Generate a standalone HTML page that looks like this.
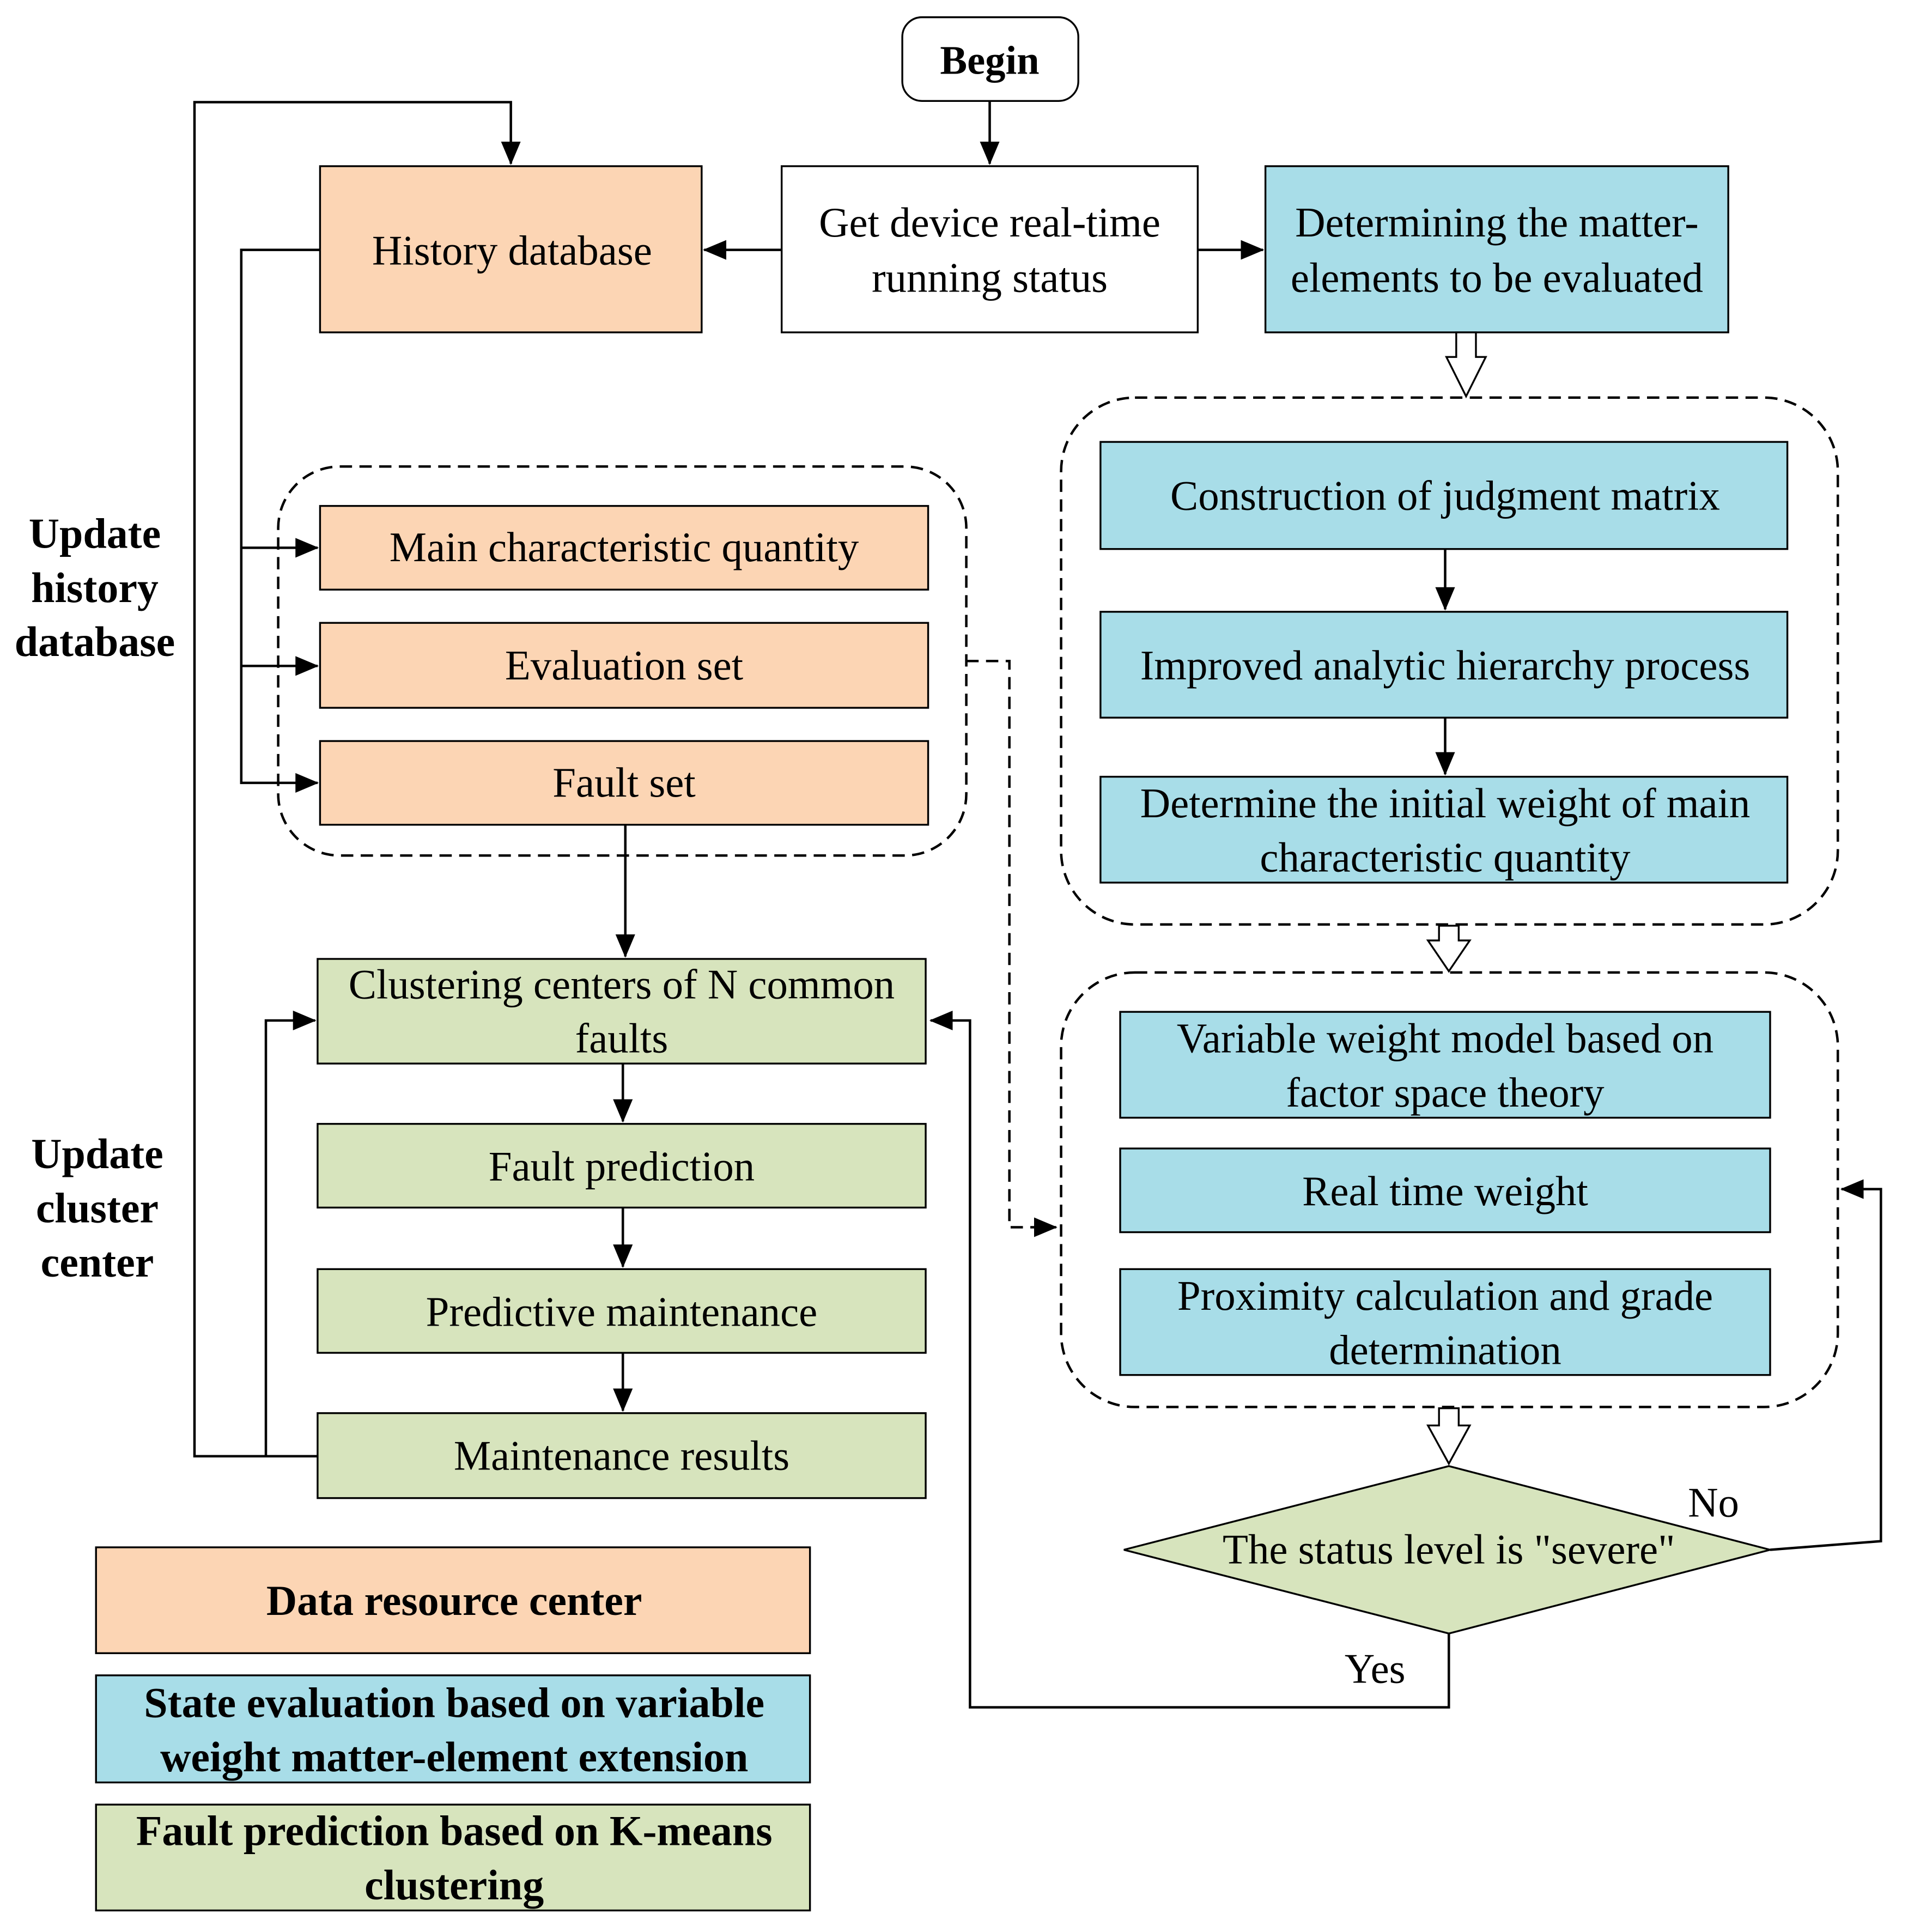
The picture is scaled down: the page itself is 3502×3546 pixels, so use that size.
<!DOCTYPE html>
<html><head><meta charset="utf-8"><style>html,body{margin:0;padding:0;background:#fff}svg{display:block}</style></head><body>
<svg width="3502" height="3546" viewBox="0 0 1550 1569.5" preserveAspectRatio="none" xmlns="http://www.w3.org/2000/svg" font-family="'Liberation Serif', serif">
<defs>
<marker id="b" markerWidth="20" markerHeight="20" refX="18" refY="10" orient="auto" markerUnits="userSpaceOnUse" viewBox="0 0 20 20"><path d="M0,2 L19,10 L0,18 z" fill="#000"/></marker>
</defs>
<g stroke="#000" stroke-width="1.5">
<rect x="733" y="14" width="143" height="68" rx="16" fill="#fff"/>
<rect x="635" y="135" width="338" height="135" fill="#fff"/>
<rect x="260" y="135" width="310" height="135" fill="#FCD5B4"/>
<rect x="1028" y="135" width="376" height="135" fill="#A8DDE8"/>
<rect x="226" y="379" width="559" height="316" rx="50" fill="none" stroke-dasharray="10,6" stroke-width="2"/>
<rect x="260" y="411" width="494" height="68" fill="#FCD5B4"/>
<rect x="260" y="506" width="494" height="69" fill="#FCD5B4"/>
<rect x="260" y="602" width="494" height="68" fill="#FCD5B4"/>
<rect x="258" y="779" width="494" height="85" fill="#D7E4BD"/>
<rect x="258" y="913" width="494" height="68" fill="#D7E4BD"/>
<rect x="258" y="1031" width="494" height="68" fill="#D7E4BD"/>
<rect x="258" y="1148" width="494" height="69" fill="#D7E4BD"/>
<rect x="862" y="323" width="631" height="428" rx="60" fill="none" stroke-dasharray="10,6" stroke-width="2"/>
<rect x="894" y="359" width="558" height="87" fill="#A8DDE8"/>
<rect x="894" y="497" width="558" height="86" fill="#A8DDE8"/>
<rect x="894" y="631" width="558" height="86" fill="#A8DDE8"/>
<rect x="862" y="790" width="631" height="353" rx="60" fill="none" stroke-dasharray="10,6" stroke-width="2"/>
<rect x="910" y="822" width="528" height="86" fill="#A8DDE8"/>
<rect x="910" y="933" width="528" height="68" fill="#A8DDE8"/>
<rect x="910" y="1031" width="528" height="86" fill="#A8DDE8"/>
<polygon points="913,1259 1177,1191 1438,1259 1177,1327" fill="#D7E4BD"/>
<rect x="78" y="1257" width="580" height="86" fill="#FCD5B4"/>
<rect x="78" y="1361" width="580" height="87" fill="#A8DDE8"/>
<rect x="78" y="1466" width="580" height="86" fill="#D7E4BD"/>
</g>
<g stroke="#000" stroke-width="2" fill="none">
<path d="M804,82 V133" marker-end="url(#b)"/>
<path d="M635,203 H572" marker-end="url(#b)"/>
<path d="M973,203 H1026" marker-end="url(#b)"/>
<path d="M258,1183 H158 V83 H415 V133" marker-end="url(#b)"/>
<path d="M260,203 H196 V636 H258" marker-end="url(#b)"/>
<path d="M196,445 H258" marker-end="url(#b)"/>
<path d="M196,541 H258" marker-end="url(#b)"/>
<path d="M508,670 V777" marker-end="url(#b)"/>
<path d="M506,864 V911" marker-end="url(#b)"/>
<path d="M506,981 V1029" marker-end="url(#b)"/>
<path d="M506,1099 V1146" marker-end="url(#b)"/>
<path d="M216,1183 V829 H256" marker-end="url(#b)"/>
<path d="M785,537 H820 V997 H858" stroke-dasharray="10,6" marker-end="url(#b)"/>
<path d="M1174,446 V495" marker-end="url(#b)"/>
<path d="M1174,583 V629" marker-end="url(#b)"/>
<path d="M1438,1259 L1528,1252 V966 H1496" marker-end="url(#b)"/>
<path d="M1177,1327 V1387 H788 V829 H756" marker-end="url(#b)"/>
</g>
<g stroke="#000" stroke-width="1.5" fill="#fff">
<polygon points="1183,270 1199,270 1199,290 1207,290 1191,322 1175,290 1183,290"/>
<polygon points="1169,752 1185,752 1185,764 1194,764 1177,789 1160,764 1169,764"/>
<polygon points="1169,1144 1185,1144 1185,1158 1194,1158 1177,1189 1160,1158 1169,1158"/>
</g>
<g font-size="34" text-anchor="middle" fill="#000">
<text x="804" y="60" font-weight="bold" font-size="33">Begin</text>
<text x="804" y="192">Get device real-time</text>
<text x="804" y="237">running status</text>
<text x="416" y="215">History database</text>
<text x="1216" y="192">Determining the matter-</text>
<text x="1216" y="237">elements to be evaluated</text>
<text x="507" y="456">Main characteristic quantity</text>
<text x="507" y="552">Evaluation set</text>
<text x="507" y="647">Fault set</text>
<text x="505" y="811">Clustering centers of  N common</text>
<text x="505" y="855">faults</text>
<text x="505" y="959">Fault prediction</text>
<text x="505" y="1077">Predictive maintenance</text>
<text x="505" y="1194">Maintenance results</text>
<text x="1174" y="414">Construction of judgment matrix</text>
<text x="1174" y="552">Improved analytic hierarchy process</text>
<text x="1174" y="664">Determine the initial weight of main</text>
<text x="1174" y="708">characteristic quantity</text>
<text x="1174" y="855">Variable weight model based on</text>
<text x="1174" y="899">factor space theory</text>
<text x="1174" y="979">Real time weight</text>
<text x="1174" y="1064">Proximity calculation and grade</text>
<text x="1174" y="1108">determination</text>
<text x="1177" y="1270">The status level is "severe"</text>
<text x="1392" y="1232">No</text>
<text x="1117" y="1367">Yes</text>
</g>
<g font-size="34.5" text-anchor="middle" fill="#000" font-weight="bold">
<text x="77" y="445">Update</text>
<text x="77" y="489">history</text>
<text x="77" y="533">database</text>
<text x="79" y="949">Update</text>
<text x="79" y="993">cluster</text>
<text x="79" y="1037">center</text>
<text x="369" y="1312">Data resource center</text>
<text x="369" y="1395">State evaluation based on variable</text>
<text x="369" y="1439">weight matter-element extension</text>
<text x="369" y="1499">Fault prediction based on K-means</text>
<text x="369" y="1543">clustering</text>
</g>
</svg>
</body></html>
